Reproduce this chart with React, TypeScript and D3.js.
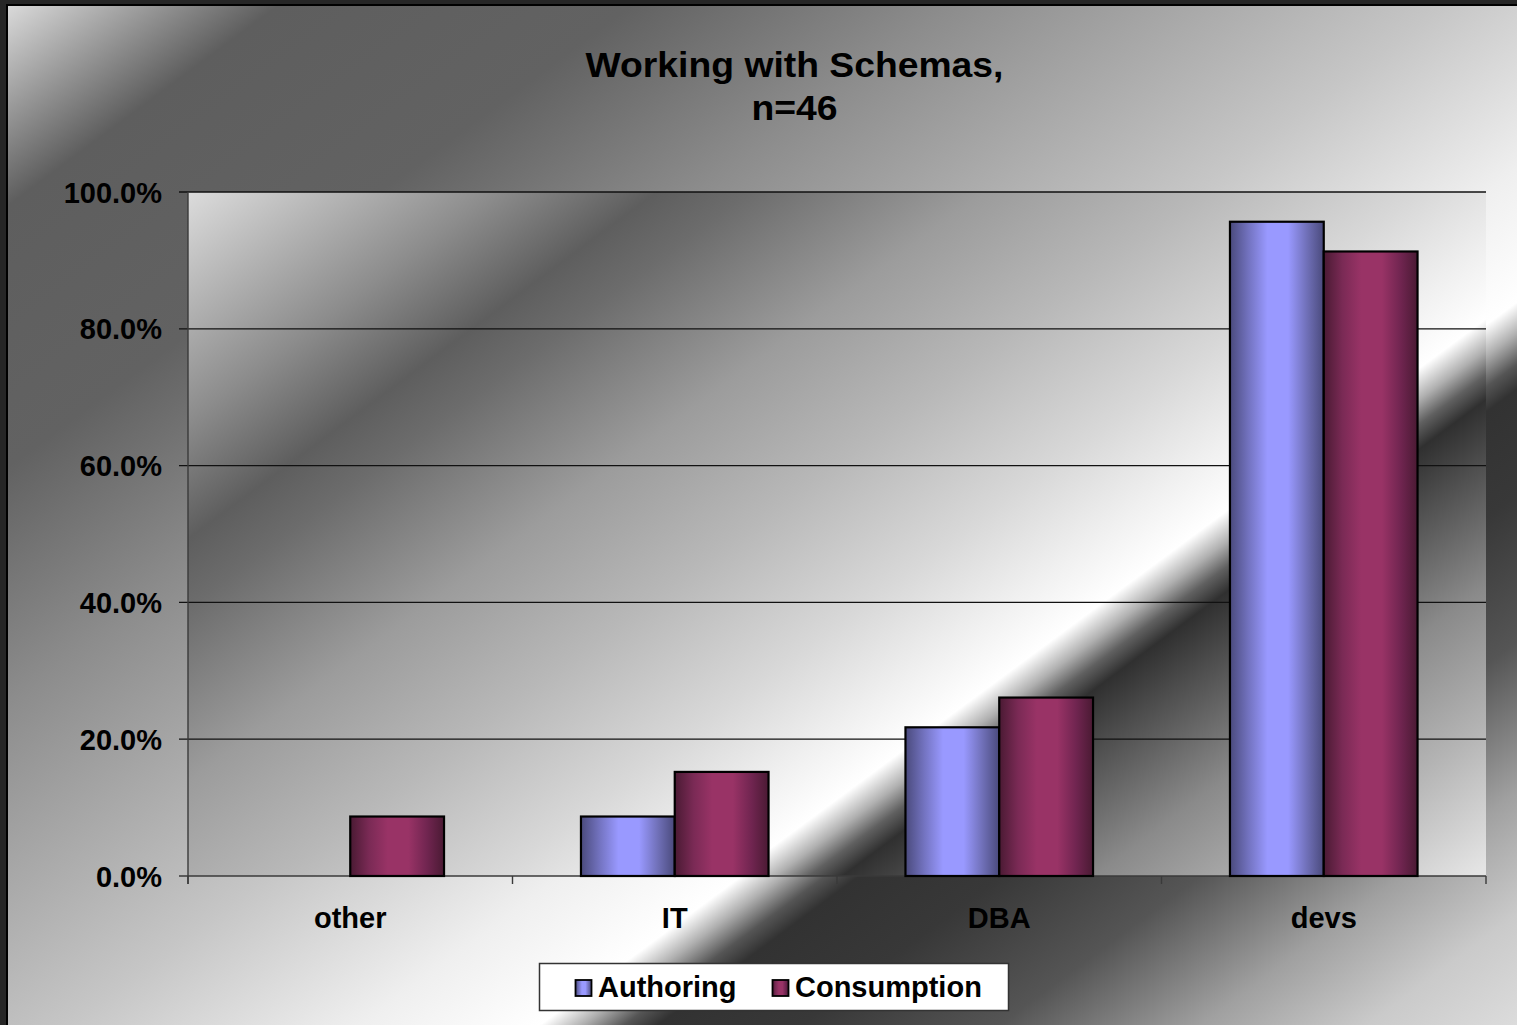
import React from "react";
import * as d3 from "d3";

const title = ["Working with Schemas,", "n=46"];
const categories = ["other", "IT", "DBA", "devs"];
const seriesNames = ["Authoring", "Consumption"];
const authoring = [0, 4 / 46, 10 / 46, 44 / 46];
const consumption = [4 / 46, 7 / 46, 12 / 46, 42 / 46];
const yTicks = [0, 0.2, 0.4, 0.6, 0.8, 1.0];

const W = 1517;
const H = 1025;
const plot = { left: 188, right: 1486, top: 192, bottom: 876 };

// gradient direction (unit vector) shared by background and plot
const DIR = [0.595, 0.804];
const GL = 2000;

const outerStops: [number, string][] = [
  [9, "#dadada"],
  [170, "#5e5e5e"],
  [380, "#626262"],
  [569, "#8c8c8c"],
  [864, "#c6c6c6"],
  [1038, "#efefef"],
  [1145, "#ffffff"],
  [1170, "#b0b0b0"],
  [1195, "#555555"],
  [1215, "#323232"],
  [1300, "#383838"],
  [1418, "#555555"],
  [1538, "#a0a0a0"],
  [1637, "#cacaca"],
  [1727, "#dcdcdc"],
];

const plotStops: [number, string][] = [
  [266, "#dcdcdc"],
  [450, "#8c8c8c"],
  [545, "#5e5e5e"],
  [600, "#6c6c6c"],
  [740, "#9c9c9c"],
  [870, "#b8b8b8"],
  [1000, "#d8d8d8"],
  [1084, "#f0f0f0"],
  [1140, "#ffffff"],
  [1165, "#b0b0b0"],
  [1185, "#606060"],
  [1205, "#303030"],
  [1250, "#4c4c4c"],
  [1355, "#8a8a8a"],
  [1466, "#b4b4b4"],
  [1580, "#e4e4e4"],
];

const barStops: Record<string, [number, string][]> = {
  Authoring: [
    [0, "#4a4a7c"],
    [0.2, "#7373c0"],
    [0.4, "#9999ff"],
    [0.62, "#9999ff"],
    [0.82, "#7070b8"],
    [1, "#4a4a7c"],
  ],
  Consumption: [
    [0, "#4a1a33"],
    [0.2, "#7a2a55"],
    [0.4, "#993366"],
    [0.62, "#993366"],
    [0.82, "#702550"],
    [1, "#4a1a33"],
  ],
};

const FONT = "'Liberation Sans', Arial, Helvetica, sans-serif";
const LABEL_SIZE = 29;

export default function App() {
  const x0 = d3
    .scaleBand<string>()
    .domain(categories)
    .range([plot.left, plot.right])
    .padding(0);
  const x1 = d3
    .scaleBand<string>()
    .domain(seriesNames)
    .range([0, x0.bandwidth()])
    .paddingInner(0)
    .paddingOuter(0.73);
  const y = d3.scaleLinear().domain([0, 1]).range([plot.bottom, plot.top]);
  const fmt = d3.format(".1%");
  const data = [authoring, consumption];
  const boundaries = categories.map((c) => x0(c) as number).concat([plot.right]);

  const linGrad = (id: string, stops: [number, string][]) => (
    <linearGradient
      id={id}
      gradientUnits="userSpaceOnUse"
      x1={0}
      y1={0}
      x2={DIR[0] * GL}
      y2={DIR[1] * GL}
    >
      {stops.map(([s, c], i) => (
        <stop key={i} offset={s / GL} stopColor={c} />
      ))}
    </linearGradient>
  );

  const titleX = 794.5;

  return (
    <svg
      width={W}
      height={H}
      style={{ position: "absolute", left: 0, top: 0, display: "block" }}
      fontFamily={FONT}
    >
      <defs>
        {linGrad("outerGrad", outerStops)}
        {linGrad("plotGrad", plotStops)}
        {seriesNames.map((s) => (
          <linearGradient key={s} id={"bar" + s} x1="0" y1="0" x2="1" y2="0">
            {barStops[s].map(([o, c], i) => (
              <stop key={i} offset={o} stopColor={c} />
            ))}
          </linearGradient>
        ))}
      </defs>
      <rect x={0} y={0} width={W} height={H} fill="#262626" />
      <rect x={7} y={5} width={W + 20} height={H + 20} fill="url(#outerGrad)" stroke="#000" strokeWidth={2} />

      {/* plot area */}
      <rect
        x={plot.left}
        y={plot.top}
        width={plot.right - plot.left}
        height={plot.bottom - plot.top}
        fill="url(#plotGrad)"
      />
      {yTicks.map((t) => (
        <g key={t}>
          <line
            x1={plot.left - 9}
            x2={plot.right}
            y1={y(t)}
            y2={y(t)}
            stroke={t === 0 ? "#3a3a3a" : "#111"}
            strokeWidth={1.3}
          />
          <text
            x={162}
            y={y(t) + 10.5}
            textAnchor="end"
            fontSize={LABEL_SIZE}
            fontWeight="bold"
            fill="#000"
          >
            {fmt(t)}
          </text>
        </g>
      ))}
      <line x1={plot.left} x2={plot.left} y1={plot.top} y2={plot.bottom + 8} stroke="#3a3a3a" strokeWidth={1.4} />
      {boundaries.map((b, i) => (
        <line key={i} x1={b} x2={b} y1={plot.bottom} y2={plot.bottom + 8} stroke="#3a3a3a" strokeWidth={1.4} />
      ))}

      {/* bars */}
      {seriesNames.map((s, si) =>
        categories.map((c, ci) => {
          const v = data[si][ci];
          if (v <= 0) return null;
          const bx = (x0(c) as number) + (x1(s) as number);
          return (
            <rect
              key={s + c}
              x={bx}
              y={y(v)}
              width={x1.bandwidth()}
              height={y(0) - y(v)}
              fill={`url(#bar${s})`}
              stroke="#000"
              strokeWidth={2.2}
            />
          );
        })
      )}

      {/* category labels */}
      {categories.map((c) => (
        <text
          key={c}
          x={(x0(c) as number) + x0.bandwidth() / 2}
          y={928}
          textAnchor="middle"
          fontSize={LABEL_SIZE}
          fontWeight="bold"
          fill="#000"
        >
          {c}
        </text>
      ))}

      {/* title (slightly stretched horizontally, as in the original) */}
      <g transform={`translate(${titleX},0) scale(1.066,1)`}>
        {title.map((t, i) => (
          <text
            key={i}
            x={0}
            y={77 + i * 43}
            textAnchor="middle"
            fontSize={35}
            fontWeight="bold"
            fill="#000"
          >
            {t}
          </text>
        ))}
      </g>

      {/* legend */}
      <rect x={539.5} y={963.5} width={469} height={47} fill="#fff" stroke="#333" strokeWidth={1.5} />
      {seriesNames.map((s, i) => {
        const sx = [575.5, 772.5][i];
        return (
          <g key={s}>
            <rect x={sx} y={980} width={16} height={16} fill={`url(#bar${s})`} stroke="#000" strokeWidth={1.8} />
            <text x={sx + 22.5} y={997} fontSize={LABEL_SIZE} fontWeight="bold" fill="#000">
              {s}
            </text>
          </g>
        );
      })}
    </svg>
  );
}
